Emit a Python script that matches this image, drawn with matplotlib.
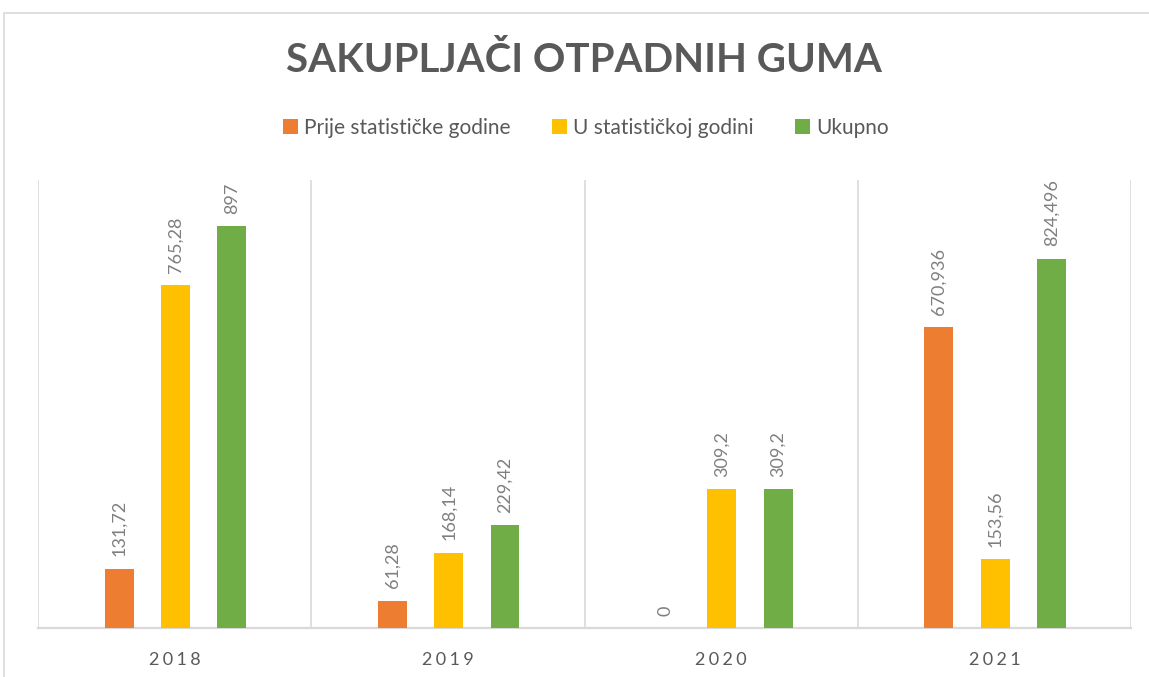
import numpy as np
import matplotlib
matplotlib.use('Agg')
import matplotlib.pyplot as plt
from matplotlib.patches import Rectangle

years = ['2018', '2019', '2020', '2021']
series_names = ['Prije statističke godine', 'U statističkoj godini', 'Ukupno']
prije = [131.72, 61.28, 0, 670.936]
u_godini = [765.28, 168.14, 309.2, 153.56]
ukupno = [897, 229.42, 309.2, 824.496]
colors = ['#ED7D31', '#FFC000', '#70AD47']

plt.rcParams['font.family'] = ['Lato', 'DejaVu Sans']

fig = plt.figure(figsize=(11.49, 6.77), dpi=100)
ax = fig.add_axes([38 / 1149, 49 / 677, 1093 / 1149, 448 / 677])

# outer chart frame
fig.patches.append(Rectangle((4 / 1149, -0.1), 1.2, 1 - 13 / 677 + 0.1,
                             transform=fig.transFigure, fill=False,
                             edgecolor='#d9d9d9', linewidth=1.2))

x = np.arange(len(years))
offsets = [-0.203, 0.003, 0.209]
width = 0.106

for vals, off, col, name in zip([prije, u_godini, ukupno], offsets, colors, series_names):
    bars = ax.bar(x + off, vals, width, color=col, label=name, zorder=3)
    for b, v in zip(bars, vals):
        ax.annotate(f'{v:g}'.replace('.', ','), (b.get_x() + b.get_width() / 2, v),
                    xytext=(0, 9), textcoords='offset points', rotation=90,
                    ha='center', va='bottom', fontsize=13, color='#7f7f7f')

ax.set_xlim(-0.5, 3.5)
ax.set_ylim(0, 1000)
ax.set_yticks([])
ax.set_xticks(x)
ax.set_xticklabels(['\u2009\u200a'.join(y) for y in years], fontsize=13, color='#595959')
ax.set_xticks(np.arange(-0.5, 4, 1), minor=True)
ax.tick_params(axis='x', which='both', length=0, pad=17)
ax.grid(axis='x', which='minor', color='#d9d9d9', linewidth=1.2, zorder=0)
for s in ['top', 'left', 'right']:
    ax.spines[s].set_visible(False)
ax.spines['bottom'].set_color('#d9d9d9')
ax.spines['bottom'].set_linewidth(1.6)

fig.text(0.508, 1 - 60 / 677, 'SAKUPLJAČI OTPADNIH GUMA', ha='center', va='center',
         fontsize=29, fontweight='bold', color='#595959')

fig.legend(loc='center', bbox_to_anchor=(0.51, 1 - 128 / 677), ncol=3, frameon=False,
           fontsize=15, handlelength=0.7, handleheight=0.7, handletextpad=0.3,
           columnspacing=2.0, labelcolor='#595959')

fig.savefig('out.png', dpi=100)
